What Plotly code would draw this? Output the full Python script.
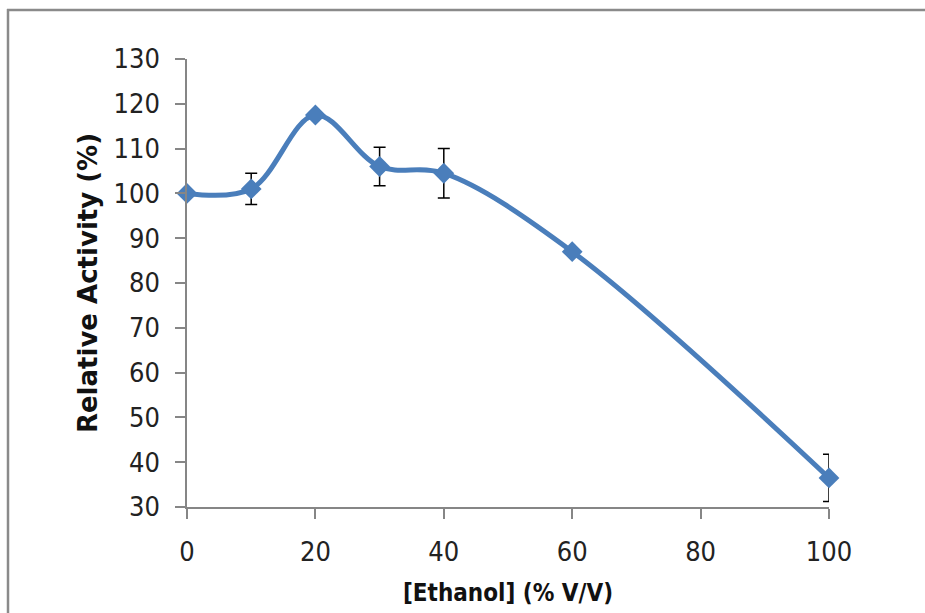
import plotly.graph_objects as go

ethanol = [0, 10, 20, 30, 40, 60, 100]
activity = [100, 101, 117.5, 106, 104.5, 87, 36.5]
error = [0, 3.5, 0, 4.3, 5.5, 0, 5.3]
y_ticks = [30, 40, 50, 60, 70, 80, 90, 100, 110, 120, 130]
x_ticks = [0, 20, 40, 60, 80, 100]

W, H = 925, 613
L, R, T, B = 187, 96, 59, 106
pw, ph = W - L - R, H - T - B

def px_to_paper_x(px):
    return (px - L) / pw

def px_to_paper_y(py):
    return (H - B - py) / ph

narrow = "DejaVu Sans Condensed, Liberation Sans Narrow, Liberation Sans"
tick_font = dict(family=narrow, size=27, color="#222222")

fig = go.Figure()
fig.add_trace(go.Scatter(
    x=ethanol, y=activity,
    mode="lines+markers",
    line=dict(color="#4A7EBB", width=5, shape="spline", smoothing=1),
    marker=dict(symbol="diamond", size=16, color="#4A7EBB"),
    error_y=dict(type="data", array=error, visible=True, color="black", thickness=1.5, width=6),
    cliponaxis=False,
    showlegend=False,
))

fig.update_layout(
    width=W, height=H,
    margin=dict(l=L, r=R, t=T, b=B),
    paper_bgcolor="white", plot_bgcolor="white",
    xaxis=dict(
        range=[0, 100], tickvals=x_ticks, ticktext=[str(v) for v in x_ticks],
        showgrid=False, zeroline=False, showline=True, linecolor="#868686", linewidth=1.5,
        ticks="outside", ticklen=10, tickcolor="#868686", tickwidth=1.5,
        tickfont=tick_font, ticklabelstandoff=10,
        title=dict(text="<b>[Ethanol] (% V/V)</b>",
                   font=dict(family=narrow, size=24, color="#111111"),
                   standoff=18),
    ),
    yaxis=dict(
        range=[30, 130], tickvals=y_ticks, ticktext=[str(v) for v in y_ticks],
        showgrid=False, zeroline=False, showline=True, linecolor="#868686", linewidth=1.5,
        ticks="outside", ticklen=10, tickcolor="#868686", tickwidth=1.5,
        tickfont=tick_font, ticklabelstandoff=10,
        title=dict(text="<b>Relative Activity (%)</b>",
                   font=dict(family="DejaVu Sans", size=26, color="#111111"),
                   standoff=8),
    ),
    shapes=[
        dict(type="line", xref="paper", yref="paper",
             x0=px_to_paper_x(7), x1=px_to_paper_x(W), y0=px_to_paper_y(10), y1=px_to_paper_y(10),
             line=dict(color="#8a8a8a", width=2.5)),
        dict(type="line", xref="paper", yref="paper",
             x0=px_to_paper_x(8), x1=px_to_paper_x(8), y0=px_to_paper_y(9), y1=px_to_paper_y(H + 2),
             line=dict(color="#8a8a8a", width=2.5)),
    ],
)

fig.write_html("out.html")
